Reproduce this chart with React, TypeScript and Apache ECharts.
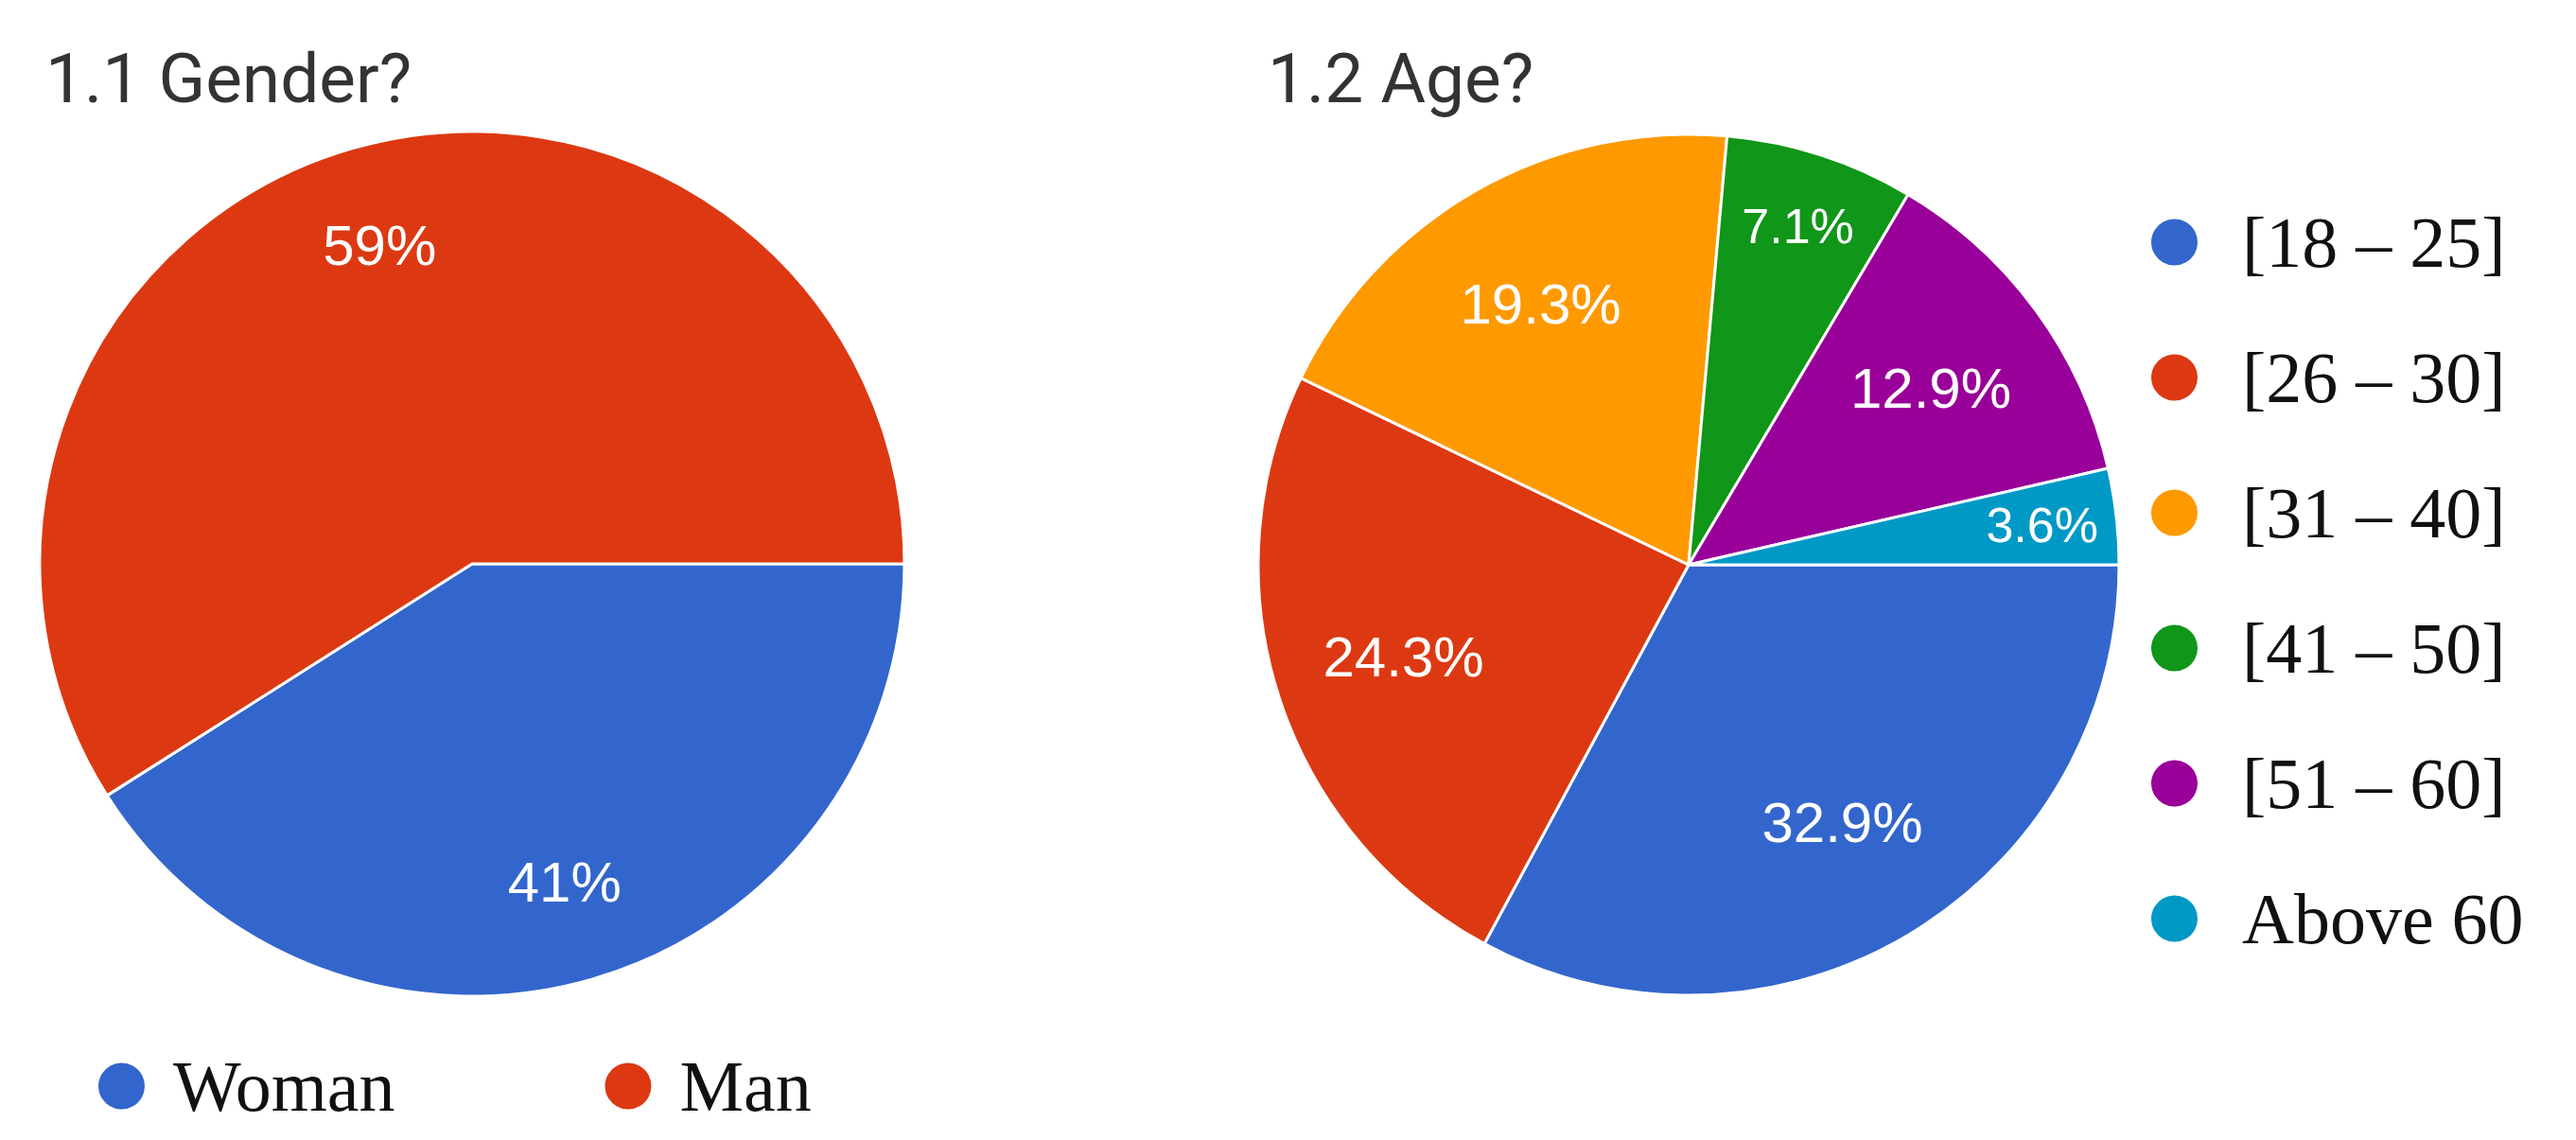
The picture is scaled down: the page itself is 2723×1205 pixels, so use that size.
import React, { useEffect, useRef } from "react";
import * as echarts from "echarts";

// ---------- data ----------
const genderTitle = "1.1 Gender?";
const genderCategories = ["Woman", "Man"];
const genderValues = [41, 59];
const genderColors = ["#3366cc", "#dc3912"];

const ageTitle = "1.2 Age?";
const ageCategories = ["[18 – 25]", "[26 – 30]", "[31 – 40]", "[41 – 50]", "[51 – 60]", "Above 60"];
const ageValues = [32.9, 24.3, 19.3, 7.1, 12.9, 3.6];
const ageColors = ["#3366cc", "#dc3912", "#ff9900", "#109618", "#990099", "#0099c6"];

// ---------- layout / style ----------
const R1 = 457;
const C1 = [499, 596];
const R2 = 455;
const C2 = [1785, 597];
const SMALL = 10;

const labelFont = "'Liberation Sans', Arial, sans-serif";
const titleFont = "Roboto, 'Noto Sans', sans-serif";
const legendFont = "'Liberation Serif', 'Times New Roman', serif";

function mainData(names: string[], values: number[], colors: string[]) {
  return names.map((n, i) => ({ name: n, value: values[i], itemStyle: { color: colors[i] } }));
}

function labelData(names: string[], values: number[], show: (v: number) => boolean) {
  return names.map((n, i) => ({ name: n, value: values[i], label: { show: show(values[i]) } }));
}

function mainPie(center: number[], r: number, data: any[]) {
  return {
    type: "pie",
    center,
    radius: [0, r],
    startAngle: 0,
    clockwise: true,
    data,
    label: { show: false },
    labelLine: { show: false },
    itemStyle: { borderColor: "#ffffff", borderWidth: 3 },
    emphasis: { disabled: true },
    silent: true,
  };
}

function labelPie(center: number[], inner: number, r: number, data: any[], fontSize: number) {
  return {
    type: "pie",
    center,
    radius: [inner, r],
    startAngle: 0,
    clockwise: true,
    data,
    itemStyle: { color: "rgba(0,0,0,0)", borderWidth: 0 },
    label: {
      position: "inside",
      formatter: (p: any) => `${p.value}%`,
      color: "#ffffff",
      fontSize,
      fontFamily: labelFont,
    },
    labelLine: { show: false },
    emphasis: { disabled: true },
    silent: true,
  };
}

export default function App() {
  const ref = useRef<HTMLDivElement>(null);

  useEffect(() => {
    if (!ref.current) return;
    const chart = echarts.init(ref.current, undefined, { renderer: "svg" });

    const option: any = {
      animation: false,
      backgroundColor: "#ffffff",
      title: [
        {
          text: genderTitle,
          left: 48,
          top: 46,
          padding: 0,
          textStyle: { fontFamily: titleFont, fontSize: 73, fontWeight: "normal", color: "#333333" },
        },
        {
          text: ageTitle,
          left: 1340,
          top: 46,
          padding: 0,
          textStyle: { fontFamily: titleFont, fontSize: 73, fontWeight: "normal", color: "#333333" },
        },
      ],
      legend: [
        {
          data: genderCategories,
          orient: "horizontal",
          left: 102,
          top: 1110,
          padding: 0,
          icon: "circle",
          itemWidth: 51,
          itemHeight: 51,
          itemGap: 220,
          selectedMode: false,
          textStyle: { fontFamily: legendFont, fontSize: 76, color: "#111111", padding: [0, 0, 0, 24] },
        },
        {
          data: ageCategories,
          orient: "vertical",
          left: 2272,
          top: 218,
          padding: 0,
          icon: "circle",
          itemWidth: 51,
          itemHeight: 51,
          itemGap: 67,
          selectedMode: false,
          textStyle: { fontFamily: legendFont, fontSize: 76, color: "#111111", padding: [0, 0, 0, 41] },
        },
      ],
      series: [
        mainPie(C1, R1, mainData(genderCategories, genderValues, genderColors)),
        mainPie(C2, R2, mainData(ageCategories, ageValues, ageColors)),
        labelPie(C1, R1 * 0.52, R1, labelData(genderCategories, genderValues, () => true), 60),
        labelPie(C2, R2 * 0.38, R2, labelData(ageCategories, ageValues, (v) => v >= SMALL), 60),
        labelPie(C2, R2 * 0.64, R2, labelData(ageCategories, ageValues, (v) => v < SMALL), 52),
      ],
    };

    chart.setOption(option);
    return () => {
      chart.dispose();
    };
  }, []);

  return (
    <div
      ref={ref}
      style={{ position: "absolute", left: 0, top: 0, width: 2723, height: 1205, background: "#fff" }}
    />
  );
}
